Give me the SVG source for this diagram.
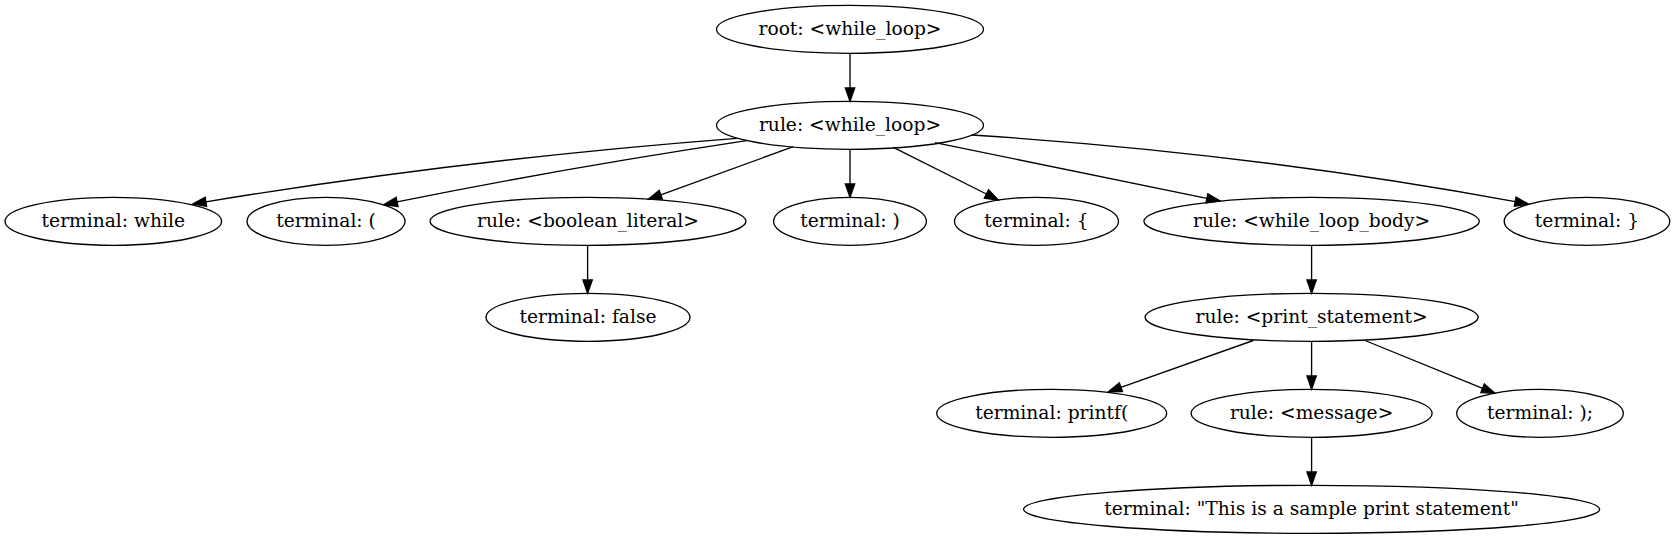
<svg xmlns="http://www.w3.org/2000/svg" width="1675" height="539" viewBox="0 0 1675 539">
<style>
.node ellipse{fill:none;stroke:#000;stroke-width:1.33}
.node text{font-family:"DejaVu Serif","Liberation Serif",serif;font-size:18.67px;text-anchor:middle;fill:#000}
#edges path{fill:none;stroke:#000;stroke-width:1.33;marker-end:url(#arr)}
</style>
<defs>
<marker id="arr" markerUnits="userSpaceOnUse" markerWidth="14" markerHeight="10" refX="0" refY="4.67" orient="auto" overflow="visible">
<path d="M0,0 L13.33,4.67 L0,9.33 z" fill="#000" stroke="#000" stroke-width="1.33"/>
</marker>
</defs>
<rect width="1675" height="539" fill="#fff"/>
<g id="edges">
<path d="M850,53.3 L850,88"/>
<path d="M736.7,138.3 Q464.7,159.2 205.9,201.8"/>
<path d="M746.7,140.7 Q565,168 397.1,201.9"/>
<path d="M793.3,146.7 L660.8,194.8"/>
<path d="M850,149.3 L850,184"/>
<path d="M893.3,147.3 L986.4,194"/>
<path d="M935,142.7 L1206.9,198.3"/>
<path d="M971.7,135 Q1250,152.9 1515.2,201.6"/>
<path d="M587.6,245.3 L587.6,280"/>
<path d="M1311.6,245.3 L1311.6,280"/>
<path d="M1253.3,340.5 L1120.9,387.3"/>
<path d="M1311.6,341.3 L1311.6,376"/>
<path d="M1365,340.5 L1482.6,388.3"/>
<path d="M1311.6,437.3 L1311.6,472"/>
</g>
<g id="n_root" class="node"><ellipse cx="850" cy="29.3" rx="133.5" ry="24"/><text x="850" y="35">root: &lt;while_loop&gt;</text></g>
<g id="n_rule" class="node"><ellipse cx="850" cy="125.3" rx="133.5" ry="24"/><text x="850" y="131">rule: &lt;while_loop&gt;</text></g>
<g id="n_while" class="node"><ellipse cx="113.3" cy="221.3" rx="108.3" ry="24"/><text x="113.3" y="227">terminal: while</text></g>
<g id="n_lparen" class="node"><ellipse cx="326" cy="221.3" rx="79" ry="24"/><text x="326" y="227">terminal: (</text></g>
<g id="n_bool" class="node"><ellipse cx="588" cy="221.3" rx="158" ry="24"/><text x="588" y="227">rule: &lt;boolean_literal&gt;</text></g>
<g id="n_rparen" class="node"><ellipse cx="850" cy="221.3" rx="76.4" ry="24"/><text x="850" y="227">terminal: )</text></g>
<g id="n_lbrace" class="node"><ellipse cx="1036.5" cy="221.3" rx="82" ry="24"/><text x="1036.5" y="227">terminal: {</text></g>
<g id="n_body" class="node"><ellipse cx="1311.6" cy="221.3" rx="167.7" ry="24"/><text x="1311.6" y="227">rule: &lt;while_loop_body&gt;</text></g>
<g id="n_rbrace" class="node"><ellipse cx="1587" cy="221.3" rx="82.8" ry="24"/><text x="1587" y="227">terminal: }</text></g>
<g id="n_false" class="node"><ellipse cx="588" cy="317.3" rx="102" ry="24"/><text x="588" y="323">terminal: false</text></g>
<g id="n_print" class="node"><ellipse cx="1311.6" cy="317.3" rx="166.6" ry="24"/><text x="1311.6" y="323">rule: &lt;print_statement&gt;</text></g>
<g id="n_printf" class="node"><ellipse cx="1051.7" cy="413.3" rx="115" ry="24"/><text x="1051.7" y="419">terminal: printf(</text></g>
<g id="n_message" class="node"><ellipse cx="1311.6" cy="413.3" rx="120.5" ry="24"/><text x="1311.6" y="419">rule: &lt;message&gt;</text></g>
<g id="n_semi" class="node"><ellipse cx="1540" cy="413.3" rx="83.3" ry="24"/><text x="1540" y="419">terminal: );</text></g>
<g id="n_string" class="node"><ellipse cx="1311.6" cy="509.3" rx="288" ry="24"/><text x="1311.6" y="515">terminal: "This is a sample print statement"</text></g>
</svg>
